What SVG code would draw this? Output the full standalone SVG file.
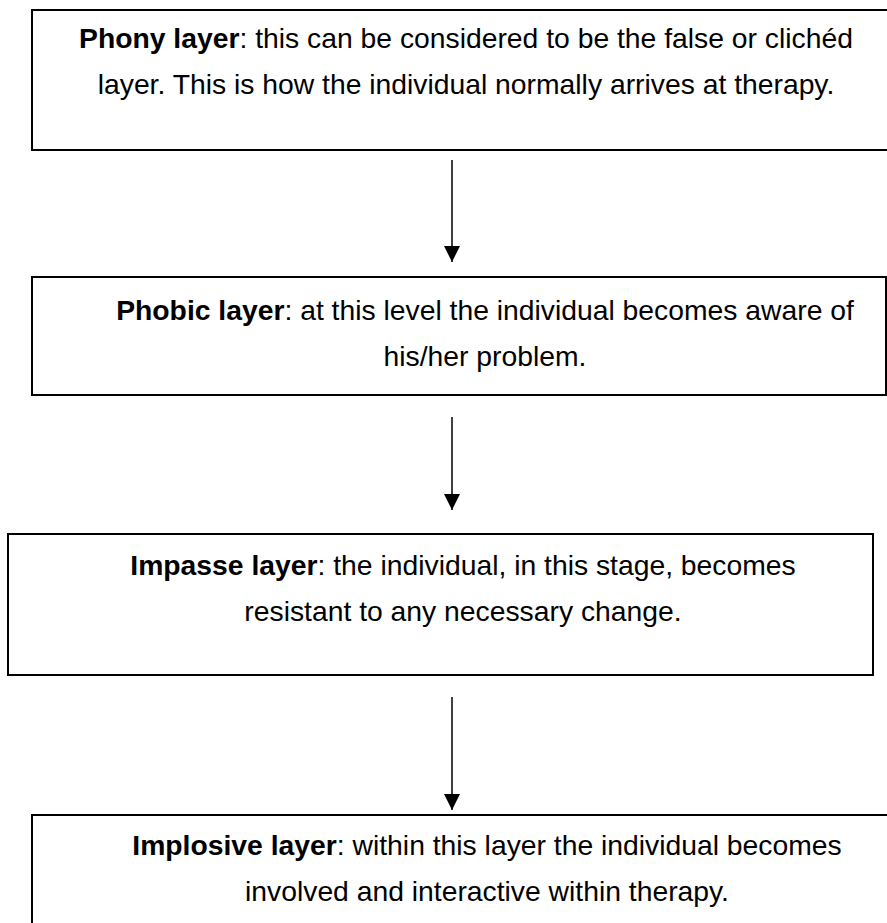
<svg xmlns="http://www.w3.org/2000/svg" width="887" height="923" viewBox="0 0 887 923">
<defs>
<style>
.box{fill:#fff;stroke:#000;stroke-width:2}
.t{font-family:"Liberation Sans",Arial,sans-serif;font-size:28.3px;fill:#000;text-anchor:middle}
.b{font-weight:bold}
.c{stroke:#000;stroke-width:1.5;fill:none}
</style>
<marker id="ah" markerUnits="userSpaceOnUse" markerWidth="16" markerHeight="16" refX="15" refY="7.5" orient="auto" viewBox="0 0 15 15">
<path d="M0,0 L15,7.5 L0,15 Z" fill="#000"/>
</marker>
</defs>
<rect width="887" height="923" fill="#fff"/>
<g id="phony">
<rect class="box" x="32" y="10" width="870" height="140"/>
<text class="t" x="466" y="48"><tspan class="b">Phony layer</tspan>: this can be considered to be the false or clichéd</text>
<text class="t" x="466" y="94">layer. This is how the individual normally arrives at therapy.</text>
</g>
<g id="phobic">
<rect class="box" x="32" y="277" width="854" height="118"/>
<text class="t" x="485" y="320"><tspan class="b">Phobic layer</tspan>: at this level the individual becomes aware of</text>
<text class="t" x="485" y="366">his/her problem.</text>
</g>
<g id="impasse">
<rect class="box" x="8" y="534" width="865" height="141"/>
<text class="t" x="463" y="575"><tspan class="b">Impasse layer</tspan>: the individual, in this stage, becomes</text>
<text class="t" x="463" y="621">resistant to any necessary change.</text>
</g>
<g id="implosive">
<rect class="box" x="32" y="815" width="870" height="130"/>
<text class="t" x="487" y="855"><tspan class="b">Implosive layer</tspan>: within this layer the individual becomes</text>
<text class="t" x="487" y="901">involved and interactive within therapy.</text>
</g>
<g id="connectors">
<line class="c" x1="452" y1="160" x2="452" y2="262" marker-end="url(#ah)"/>
<line class="c" x1="452" y1="417" x2="452" y2="510" marker-end="url(#ah)"/>
<line class="c" x1="452" y1="697" x2="452" y2="810" marker-end="url(#ah)"/>
</g>
</svg>
